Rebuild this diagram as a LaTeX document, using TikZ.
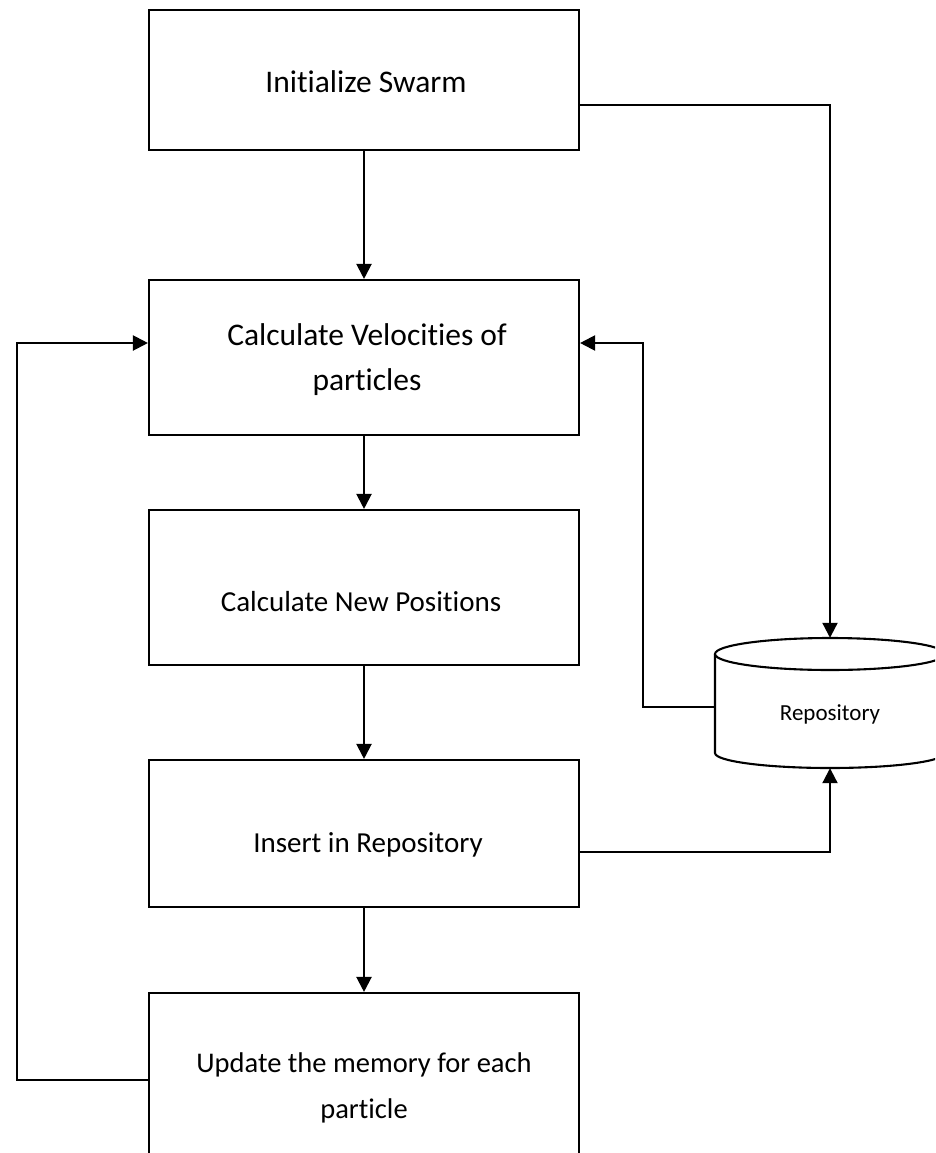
\documentclass[tikz,border=0pt]{standalone}
\usepackage{fontspec}
\setmainfont{Carlito}[Ligatures=NoCommon]
\usetikzlibrary{arrows.meta}
\begin{document}
\begin{tikzpicture}[x=1pt,y=1pt,
  stepbox/.style={draw,line width=2.1pt,minimum width=430pt,inner sep=0pt},
  txt/.style={align=center,inner sep=0pt},
  conn/.style={line width=2.1pt},
  arr/.style={conn,-{Triangle[length=15pt,width=15pt]}}]
\useasboundingbox (0,0) rectangle (935,-1153);
\clip (0,0) rectangle (935,-1153);
\fill[white] (0,0) rectangle (935,-1153);
% boxes
\node[stepbox,minimum height=140pt] (b1) at (364,-80) {};
\node[stepbox,minimum height=155pt] (b2) at (364,-357.5) {};
\node[stepbox,minimum height=155pt] (b3) at (364,-587.5) {};
\node[stepbox,minimum height=147pt] (b4) at (364,-833.5) {};
\node[stepbox,minimum height=200pt] (b5) at (364,-1093) {};
% texts
\node[txt,font=\fontsize{31.5}{45}\selectfont] (t1) at (366,-82) {Initialize Swarm};
\node[txt,font=\fontsize{31.5}{45}\selectfont] (t2) at (367,-360) {Calculate Velocities of\\particles};
\node[txt,font=\fontsize{29}{44}\selectfont] (t3) at (361,-602) {Calculate New Positions};
\node[txt,font=\fontsize{29}{44}\selectfont] (t4) at (368,-845) {Insert in Repository};
\node[txt,font=\fontsize{28.5}{46}\selectfont] (t5) at (364,-1088) {Update the memory for each\\particle};
% repository cylinder
\node[minimum width=230pt,minimum height=130pt,inner sep=0pt] (repo) at (830,-703) {};
\draw[line width=2.1pt,fill=white] (715,-654) -- (715,-753) arc (180:360:115 and 15) -- (945,-654);
\draw[line width=2.1pt] (830,-654) ellipse (115 and 16);
\node[txt,font=\fontsize{23}{28}\selectfont] (t6) at (830,-714) {Repository};
% corner coordinates
\coordinate (l2) at (17,-343);
\coordinate (r2) at (643,-343);
% connectors
\draw[arr] (b1.south) -- (b2.north);
\draw[arr] (b2.south) -- (b3.north);
\draw[arr] (b3.south) -- (b4.north);
\draw[arr] (b4.south) -- (b5.north);
\draw[arr] ([yshift=-25pt]b1.east) -| (repo.north);
\draw[arr] ([yshift=-18.5pt]b4.east) -| (repo.south);
\draw[arr] ([yshift=-4pt]repo.west) -| (r2) -- ([yshift=14.5pt]b2.east);
\draw[arr] ([yshift=13pt]b5.west) -| (l2) -- ([yshift=14.5pt]b2.west);
\end{tikzpicture}
\end{document}
